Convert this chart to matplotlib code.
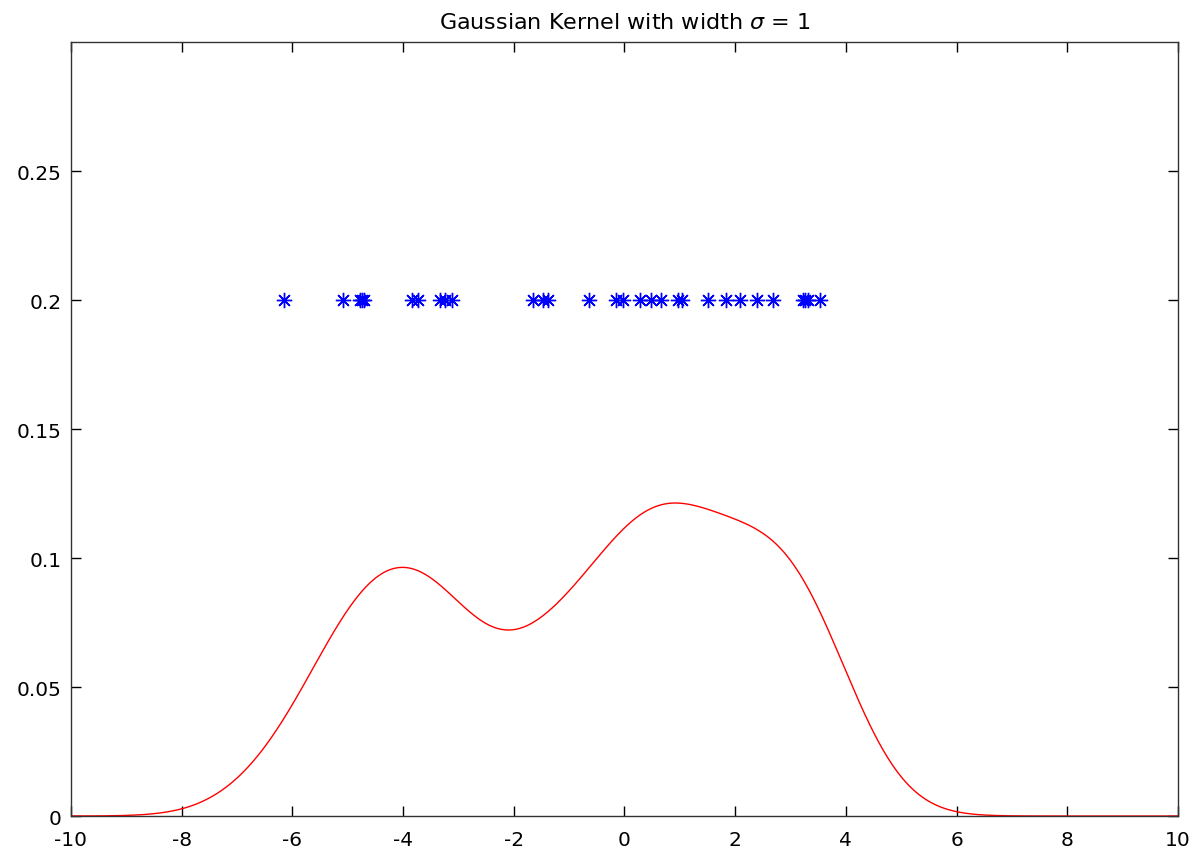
import numpy as np
import matplotlib.pyplot as plt

# sample points
muestras = [-6.15, -5.09, -4.78, -4.74, -4.71, -3.84, -3.73, -3.33, -3.24, -3.12,
            -1.66, -1.47, -1.38, -0.64, -0.16, -0.02, 0.28, 0.47, 0.66, 0.96,
            1.04, 1.50, 1.83, 2.09, 2.39, 2.68, 3.23, 3.27, 3.32, 3.53]
altura_pontos = 0.2
sigma = 1.0

xticks = list(range(-10, 11, 2))
yticks = [0, 0.05, 0.1, 0.15, 0.2, 0.25]
ytick_labels = ['0', '0.05', '0.1', '0.15', '0.2', '0.25']

plt.rcParams['font.family'] = ['DejaVu Sans']
plt.rcParams['axes.unicode_minus'] = False

fig = plt.figure(figsize=(11.99, 8.54), dpi=100)
ax = fig.add_axes([0.0592, 0.0433, 0.9233, 0.9063])

# kernel density estimate from the samples
x = np.linspace(-10, 10, 1000)
dens = np.zeros_like(x)
for m in muestras:
    dens += np.exp(-(x - m) ** 2 / (2 * sigma ** 2)) / (np.sqrt(2 * np.pi) * sigma)
dens = dens / len(muestras)

ax.plot(x, dens, color='red', linewidth=1)
ax.plot(muestras, [altura_pontos] * len(muestras), linestyle='none',
        marker=(8, 2, 0), markersize=11, markeredgewidth=1, color='blue')

ax.set_xlim(-10, 10)
ax.set_ylim(0, 0.3)
ax.set_xticks(xticks)
ax.set_yticks(yticks)
ax.set_yticklabels(ytick_labels)
ax.tick_params(direction='in', length=7.5, width=1, labelsize=14.5,
               top=True, right=True)
ax.tick_params(axis='x', pad=10)
ax.tick_params(axis='y', pad=7)
for s in ax.spines.values():
    s.set_linewidth(1)
    s.set_color('#333333')

ax.set_title(r'Gaussian Kernel with width $\sigma$ = 1', fontsize=16, pad=10)

fig.savefig('out.png', dpi=100)
